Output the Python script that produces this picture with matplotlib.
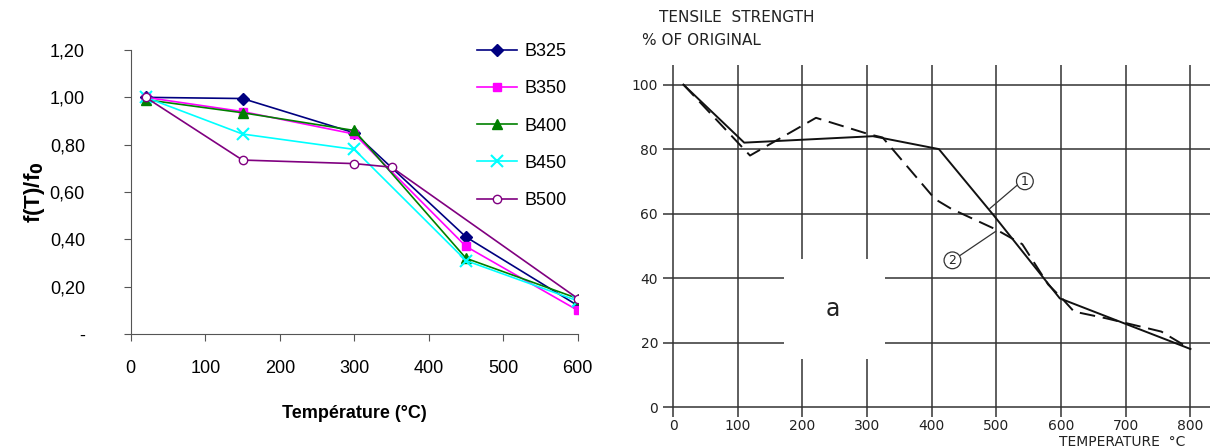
import matplotlib.pyplot as plt
from matplotlib.patches import Rectangle

# left chart data: f(T)/f0 against temperature
temp = [20, 150, 300, 450, 600]
b325 = [1.00, 0.995, 0.85, 0.41, 0.12]
b350 = [1.00, 0.94, 0.845, 0.37, 0.10]
b400 = [0.99, 0.935, 0.86, 0.32, 0.15]
b450 = [1.00, 0.845, 0.78, 0.31, 0.14]
temp_b500 = [20, 150, 300, 350, 600]
b500 = [1.00, 0.735, 0.72, 0.705, 0.15]

y_ticks = [0, 0.2, 0.4, 0.6, 0.8, 1.0, 1.2]
y_ticklabels = ['-', '0,20', '0,40', '0,60', '0,80', '1,00', '1,20']

# right chart data: tensile strength % of original
t1 = [16, 110, 309, 411, 496, 598, 697, 800]
s1 = [100, 82, 84, 80, 59.4, 33.7, 26, 18]
t2 = [16, 119, 221, 303, 324, 405, 430, 500, 540, 580, 600, 620, 670, 755, 800]
s2 = [100, 78, 89.7, 84.6, 83.6, 64.5, 61.5, 55, 50.5, 38, 34, 29.6, 27.5, 23.4, 18]

fig = plt.figure(figsize=(12.13, 4.47), dpi=100)

# ---- left chart ----
ax = fig.add_axes([0.1078, 0.2528, 0.3685, 0.6353])
font = 'Liberation Sans'
ax.plot(temp, b325, color='#000080', marker='D', ms=6, lw=1.2, label='B325')
ax.plot(temp, b350, color='#FF00FF', marker='s', ms=6, lw=1.2, label='B350')
ax.plot(temp, b400, color='#008000', marker='^', ms=7, lw=1.2, label='B400')
ax.plot(temp, b450, color='#00FFFF', marker='x', ms=8, mew=1.5, lw=1.2, label='B450')
ax.plot(temp_b500, b500, color='#800080', marker='o', ms=6, mfc='white', lw=1.2, label='B500')

ax.set_xlim(0, 600)
ax.set_ylim(0, 1.2)
ax.set_xticks(range(0, 601, 100))
ax.set_yticks(y_ticks)
ax.set_yticklabels(y_ticklabels)
for s in ['top', 'right']:
    ax.spines[s].set_visible(False)
for s in ['left', 'bottom']:
    ax.spines[s].set_color('#555555')
ax.tick_params(colors='#555555', labelcolor='black', length=5, labelsize=13)
for lab in ax.get_xticklabels() + ax.get_yticklabels():
    lab.set_family(font)
ax.tick_params(axis='x', pad=14)
ax.tick_params(axis='y', pad=28)
ax.set_xlabel('Température (°C)', fontsize=13, fontweight='bold', family=font, labelpad=20)
ax.set_ylabel('f(T)/f$_\\mathbf{0}$', fontsize=16, fontweight='bold', family=font, labelpad=2)
fig.legend(loc='upper left', bbox_to_anchor=(0.38, 0.94), frameon=False,
           prop={'family': font, 'size': 13}, handlelength=2.2, handletextpad=0.4,
           labelspacing=1.12)

# ---- right chart ----
ax2 = fig.add_axes([0.5522, 0.0822, 0.4452, 0.7718])
ink = '#333333'
ax2.set_xlim(-5, 830)
ax2.set_ylim(-1, 106)
for y in range(0, 101, 20):
    ax2.axhline(y, color=ink, lw=1.1, zorder=0.5)
for x in [0] + list(range(100, 801, 100)):
    ax2.axvline(x, color=ink, lw=1.1, zorder=0.5)
ax2.add_patch(Rectangle((172, 15), 156, 31, facecolor='white', edgecolor='none', zorder=1))
ax2.plot(t1, s1, color='#111111', lw=1.4, zorder=3)
ax2.plot(t2, s2, color='#111111', lw=1.4, dashes=(8, 4), zorder=3)

# labels 1 and 2 with leader lines
ax2.plot([535, 490], [69.3, 61.6], color=ink, lw=0.9, zorder=3)
ax2.plot([438.5, 499], [46.3, 54.5], color=ink, lw=0.9, zorder=3)
ax2.text(544, 70, '1', fontsize=9, ha='center', va='center', color='#222222',
         bbox=dict(boxstyle='circle,pad=0.15', fc='white', ec=ink, lw=0.9), zorder=4)
ax2.text(432, 45.5, '2', fontsize=9, ha='center', va='center', color='#222222',
         bbox=dict(boxstyle='circle,pad=0.15', fc='white', ec=ink, lw=0.9), zorder=4)
ax2.text(247, 30.5, 'a', fontsize=17, ha='center', va='center', color='#222222')

for s in ax2.spines.values():
    s.set_visible(False)
ax2.set_xticks(range(0, 801, 100))
ax2.set_yticks(range(0, 101, 20))
ax2.tick_params(colors=ink, labelcolor='#222222', length=5, width=1.1, labelsize=10)
ax2.tick_params(axis='x', pad=1)
fig.text(0.543, 0.96, 'TENSILE  STRENGTH', fontsize=11, color='#222222', va='center')
fig.text(0.529, 0.91, '% OF ORIGINAL', fontsize=11, color='#222222', va='center')
fig.text(0.873, 0.012, 'TEMPERATURE  °C', fontsize=10, color='#222222', va='center')

fig.savefig('out.png', dpi=100)
